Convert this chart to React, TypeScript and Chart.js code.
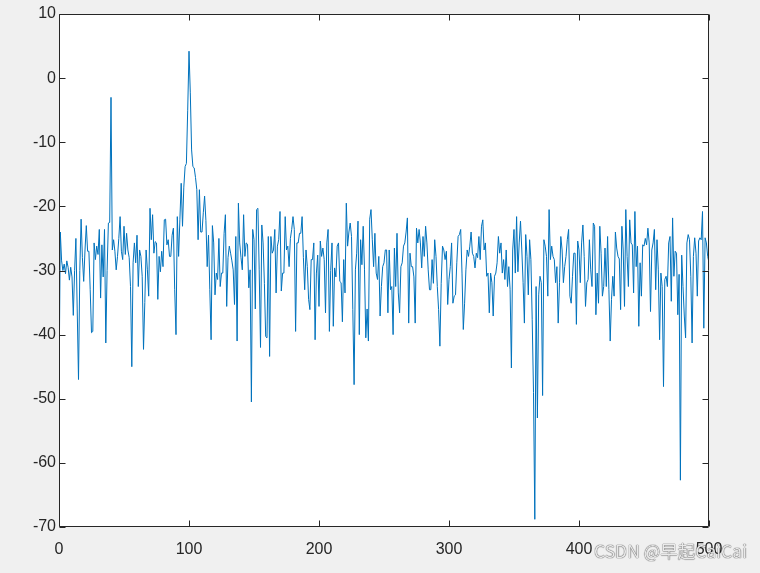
import React, { useEffect, useRef } from 'react';
import { Chart, registerables } from 'chart.js';

Chart.register(...registerables);

const xTicks = [0, 100, 200, 300, 400, 500];
const yTicks = [10, 0, -10, -20, -30, -40, -50, -60, -70];

const signal = [
  -49, -24, -28.5, -30, -29, -30.5, -28.5, -29.5, -31.5, -29.5,
  -31, -37, -30, -25, -36, -47, -30, -22, -28, -31.7,
  -26.8, -23, -27, -27, -33, -39.7, -39.5, -25.7, -28.3, -26.2,
  -27.5, -23.6, -34.3, -26, -31, -23.6, -41.3, -30, -22.6, -22.5,
  -3, -26.8, -25.2, -27, -29.9, -27.8, -25, -21.6, -27, -28.3,
  -23.1, -27.5, -24.2, -26.8, -28, -32.5, -45, -28.8, -25.7, -28.8,
  -24.5, -32.5, -26.8, -27.8, -30.9, -42.3, -35, -26.8, -29.9, -34,
  -20.3, -25.2, -21.3, -27.3, -25.5, -25.7, -34.5, -27.8, -30.2, -27,
  -29.4, -22.1, -22, -26, -25.2, -27.8, -27.8, -24.5, -23.4, -33,
  -40, -21.6, -27.8, -22, -16.4, -23.1, -17, -13.8, -13.3, -5,
  4.2, -2.3, -11.2, -13.8, -14, -15.5, -17.4, -25.2, -17.4, -24,
  -24, -21, -18.4, -22.2, -29.4, -24.5, -33, -40.8, -23, -25.7,
  -33.8, -30.4, -31.4, -25, -32.5, -30.4, -30.4, -24.2, -21.3, -35.6,
  -28, -26.2, -27.3, -28.5, -29.9, -35.3, -24.7, -41, -19.5, -25.7,
  -28, -29.9, -21.3, -27.8, -25.7, -25.9, -32.7, -29.9, -50.5, -23.6,
  -25.2, -36, -20.5, -20.3, -29.9, -42, -22.9, -25.7, -32, -40.3,
  -40.5, -24.7, -43.4, -24.7, -27.3, -26.8, -23.6, -33.5, -26.2, -25.2,
  -20.8, -33.2, -30.4, -30.4, -21.6, -26.8, -26.2, -29.4, -25, -23.6,
  -21.6, -23.6, -39.5, -25.7, -25.7, -24.2, -24.2, -21.6, -28, -33,
  -26.8, -29.4, -34.5, -36.1, -28.3, -28.3, -25.7, -40.8, -30.4, -27.6,
  -35.6, -25.4, -27.8, -26.5, -28.3, -36.6, -25.7, -23.6, -39.5, -30,
  -25.7, -38.7, -29.6, -31, -26.2, -25.7, -31.7, -31.9, -38, -28.3,
  -33.5, -19.5, -26.2, -24, -22.6, -24.7, -36.1, -47.8, -29.9, -27.3,
  -22.3, -40, -25.2, -29.1, -23.1, -29.9, -40.5, -36, -41, -22,
  -20.5, -25.2, -29.4, -24.2, -30.4, -31.4, -27.8, -37.1, -32.5, -29.4,
  -28.8, -26.8, -26.8, -36.6, -26.8, -33, -32.5, -40, -26.5, -32.5,
  -24.2, -33.5, -36.6, -29.4, -28.8, -26.2, -25.7, -24, -21.8, -38.2,
  -27.3, -29.4, -29.4, -31, -38.2, -23.4, -25.7, -23.6, -25.7, -29.6,
  -24.7, -27.8, -23.1, -25.7, -29.9, -33, -33, -28.3, -32, -25.2,
  -27.8, -32.5, -36.1, -41.8, -32, -26.2, -26.8, -28.3, -27, -35.3,
  -31.4, -29.4, -25.7, -35.1, -34, -33.8, -28.8, -24.7, -24.4, -23.6,
  -30.4, -39.2, -35.1, -29.9, -26.8, -27.8, -26.2, -24, -27.3, -27.8,
  -29.6, -27.3, -28, -24.7, -28.3, -23.1, -22.1, -26.8, -25.7, -30.9,
  -30.4, -36.6, -30.4, -31.9, -37.1, -30.9, -30.4, -28.8, -24.7, -27.3,
  -25.7, -30.4, -28.3, -31.4, -26.8, -32.5, -29.4, -33, -45.2, -26.8,
  -23.6, -30.4, -21.6, -30.2, -25.7, -22.3, -26.8, -31.9, -38.2, -24.4,
  -27.8, -33.8, -25.2, -28.3, -37.6, -49, -68.8, -32.5, -53, -33.8,
  -30.9, -31.9, -49.5, -25.2, -26.2, -27.8, -34, -20.5, -28.3, -26.2,
  -27.8, -28.3, -31.9, -29.4, -38.2, -31.9, -24.7, -26.8, -31.9, -29.4,
  -27.8, -25.2, -23.6, -34, -35.1, -30.9, -27.3, -27.3, -38.4, -25.4,
  -26.8, -31.9, -25.7, -22.9, -27.8, -35.6, -31.9, -31.4, -25.2, -29.9,
  -32.5, -22.6, -23.1, -36.9, -30.4, -35.1, -23.1, -27.3, -34, -32.5,
  -26.5, -32.5, -24.7, -33, -41, -34.5, -30.9, -34, -24, -26.5,
  -27.8, -28.2, -36.1, -23.1, -26.8, -35.6, -20.5, -27.8, -32.5, -22.1,
  -25.7, -26, -33.5, -20.8, -29.4, -26.2, -38.7, -28.8, -34, -26,
  -26.2, -25, -26, -23.4, -25.7, -36.4, -26.8, -25.7, -23.6, -33,
  -25.2, -29.9, -40.8, -30.4, -32.5, -48.1, -31.4, -30.9, -32.5, -25.7,
  -24.7, -34.8, -21.8, -30.9, -27, -27.3, -36.9, -30.6, -62.7, -27.6,
  -32.5, -37.1, -40.5, -25.7, -24.4, -25.2, -30.9, -41.3, -27.8, -24.9,
  -27.3, -34, -25.4, -24.9, -25.2, -20.8, -39, -24.9, -25.7, -27.8,
  -28.8,
];

const AXIS_COLOR = '#262626';
const LINE_COLOR = '#0072BD';
const TICK_FONT = { family: '"Liberation Sans", Arial, sans-serif', size: 16 };

export default function App() {
  const ref = useRef<HTMLCanvasElement | null>(null);

  useEffect(() => {
    if (!ref.current) return;
    const points = signal.map((v, i) => ({ x: i, y: v }));

    const boxPlugin = {
      id: 'matlabBox',
      beforeDatasetsDraw(chart: any) {
        const { ctx, chartArea: a } = chart;
        ctx.save();
        ctx.fillStyle = '#ffffff';
        ctx.fillRect(a.left, a.top, a.right - a.left, a.bottom - a.top);
        ctx.restore();
      },
      afterDraw(chart: any) {
        const { ctx, chartArea: a } = chart;
        const xs = chart.scales.x;
        const ys = chart.scales.y;
        const L = 6;
        ctx.save();
        ctx.strokeStyle = AXIS_COLOR;
        ctx.lineWidth = 1;
        ctx.beginPath();
        const l = Math.round(a.left) + 0.5;
        const r = Math.round(a.right) - 0.5;
        const t = Math.round(a.top) + 0.5;
        const b = Math.round(a.bottom) - 0.5;
        ctx.rect(l, t, r - l, b - t);
        xTicks.forEach((v) => {
          const px = Math.round(xs.getPixelForValue(v)) + 0.5;
          ctx.moveTo(px, b);
          ctx.lineTo(px, b - L);
          ctx.moveTo(px, t);
          ctx.lineTo(px, t + L);
        });
        yTicks.forEach((v) => {
          const py = Math.round(ys.getPixelForValue(v)) + 0.5;
          ctx.moveTo(l, py);
          ctx.lineTo(l + L, py);
          ctx.moveTo(r, py);
          ctx.lineTo(r - L, py);
        });
        ctx.stroke();
        ctx.restore();
      },
    };

    const chart = new Chart(ref.current, {
      type: 'line',
      data: {
        datasets: [
          {
            data: points,
            borderColor: LINE_COLOR,
            borderWidth: 1,
            pointRadius: 0,
            tension: 0,
            fill: false,
          },
        ],
      },
      options: {
        animation: false,
        responsive: false,
        events: [],
        layout: { padding: { top: 14, right: 51, left: 0, bottom: 0 } },
        plugins: { legend: { display: false }, tooltip: { enabled: false } },
        scales: {
          x: {
            type: 'linear',
            min: 0,
            max: 500,
            afterBuildTicks: (s: any) => {
              s.ticks = xTicks.map((v) => ({ value: v }));
            },
            afterFit: (s: any) => {
              s.height = 46;
            },
            grid: { display: false, drawTicks: false, tickLength: 0 },
            border: { display: false },
            ticks: { color: AXIS_COLOR, font: TICK_FONT, padding: 13, maxRotation: 0, autoSkip: false },
          },
          y: {
            type: 'linear',
            min: -70,
            max: 10,
            afterBuildTicks: (s: any) => {
              s.ticks = yTicks.map((v) => ({ value: v }));
            },
            afterFit: (s: any) => {
              s.width = 59;
            },
            grid: { display: false, drawTicks: false, tickLength: 0 },
            border: { display: false },
            ticks: { color: AXIS_COLOR, font: TICK_FONT, padding: 3, autoSkip: false },
          },
        },
      },
      plugins: [boxPlugin],
    });
    return () => chart.destroy();
  }, []);

  return (
    <div
      style={{
        position: 'fixed',
        left: 0,
        top: 0,
        width: 760,
        height: 573,
        background: '#f0f0f0',
        overflow: 'hidden',
      }}
    >
      <canvas ref={ref} width={760} height={573} style={{ display: 'block' }} />
      <span
        style={{
          position: 'absolute',
          left: 594,
          top: 540,
          fontFamily: '"Noto Sans CJK SC", "Noto Sans", sans-serif',
          fontSize: 17.5,
          lineHeight: '22px',
          color: 'rgba(255,255,255,0.9)',
          textShadow: '0 0 1px rgba(0,0,0,0.8), 0 0 1px rgba(0,0,0,0.6)',
          whiteSpace: 'nowrap',
        }}
      >
        CSDN @早起CaiCai
      </span>
    </div>
  );
}
